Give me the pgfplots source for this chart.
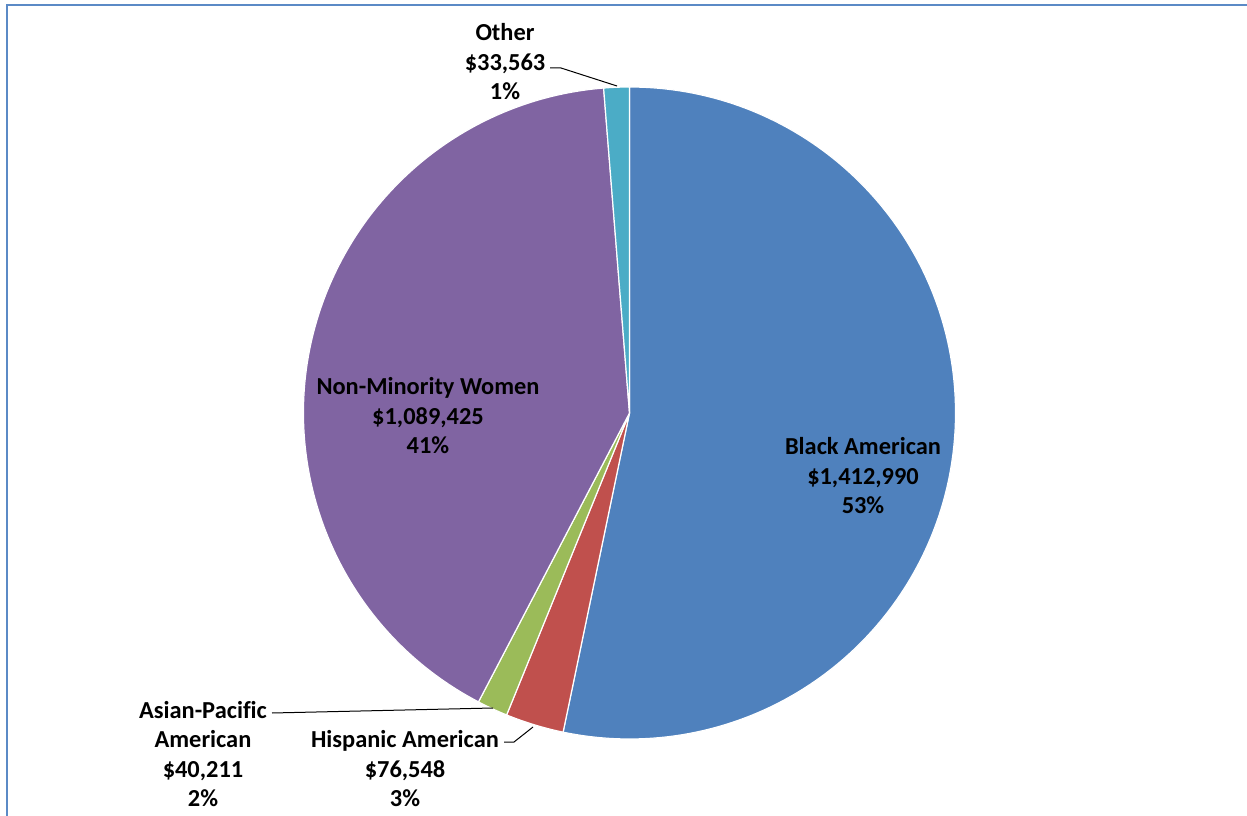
\documentclass[border=0pt]{standalone}
\usepackage{pgfplots}
\pgfplotsset{compat=1.18}
\usepackage{pgfplotstable}
\usepackage{fontspec}
\setmainfont{Carlito}[Ligatures=NoCommon]
\definecolor{cBlue}{HTML}{4F81BD}
\definecolor{cRed}{HTML}{C0504D}
\definecolor{cGreen}{HTML}{9BBB59}
\definecolor{cPurple}{HTML}{8064A2}
\definecolor{cAqua}{HTML}{4BACC6}
\definecolor{cFrame}{HTML}{5B8AC6}

\pgfplotstableread{
idx value
0 1412990
1 76548
2 40211
3 1089425
4 33563
}\pietable
\pgfplotstablegetelem{0}{value}\of\pietable\edef\vA{\pgfplotsretval}
\pgfplotstablegetelem{1}{value}\of\pietable\edef\vB{\pgfplotsretval}
\pgfplotstablegetelem{2}{value}\of\pietable\edef\vC{\pgfplotsretval}
\pgfplotstablegetelem{3}{value}\of\pietable\edef\vD{\pgfplotsretval}
\pgfplotstablegetelem{4}{value}\of\pietable\edef\vE{\pgfplotsretval}
\edef\tot{\fpeval{\vA+\vB+\vC+\vD+\vE}}
\edef\aO{90}
\edef\aA{\fpeval{90-360*\vA/\tot}}
\edef\aB{\fpeval{\aA-360*\vB/\tot}}
\edef\aC{\fpeval{\aB-360*\vC/\tot}}
\edef\aD{\fpeval{\aC-360*\vD/\tot}}
\edef\aE{\fpeval{\aD-360*\vE/\tot}}

\begin{document}
\begin{tikzpicture}
\begin{axis}[width=623.5pt,height=407.5pt,scale only axis,
  xmin=0,xmax=1247,ymin=0,ymax=815,hide axis,clip=false]
\def\R{163pt}
\fill[cBlue,draw=white,line width=0.6pt] (axis cs:629.5,402) -- ++(\aO:\R) arc[start angle=\aO,end angle=\aA,radius=\R] -- cycle;
\fill[cRed,draw=white,line width=0.6pt] (axis cs:629.5,402) -- ++(\aA:\R) arc[start angle=\aA,end angle=\aB,radius=\R] -- cycle;
\fill[cGreen,draw=white,line width=0.6pt] (axis cs:629.5,402) -- ++(\aB:\R) arc[start angle=\aB,end angle=\aC,radius=\R] -- cycle;
\fill[cPurple,draw=white,line width=0.6pt] (axis cs:629.5,402) -- ++(\aC:\R) arc[start angle=\aC,end angle=\aD,radius=\R] -- cycle;
\fill[cAqua,draw=white,line width=0.6pt] (axis cs:629.5,402) -- ++(\aD:\R) arc[start angle=\aD,end angle=\aE,radius=\R] -- cycle;
% leader lines
\draw[black,line width=0.5pt] (axis cs:550,747) -- (axis cs:561,747) -- (axis cs:617,729);
\draw[black,line width=0.5pt] (axis cs:272,102) -- (axis cs:493,107);
\draw[black,line width=0.5pt] (axis cs:504,73) -- (axis cs:514,73) -- (axis cs:533,88);
% labels
\tikzset{lbl/.style={align=center,inner sep=0pt,font={\fontsize{12.2pt}{14.75pt}\selectfont\bfseries}}}
\node[lbl] at (axis cs:863,339) {Black American\\\$1,412,990\\53\%};
\node[lbl] at (axis cs:428,399) {Non-Minority Women\\\$1,089,425\\41\%};
\node[lbl] at (axis cs:505,753) {Other\\\$33,563\\1\%};
\node[lbl] at (axis cs:405,46) {Hispanic American\\\$76,548\\3\%};
\node[lbl] at (axis cs:203,61) {Asian-Pacific\\American\\\$40,211\\2\%};
% frame
\draw[cFrame,line width=1pt] (axis cs:7,-20) -- (axis cs:7,810) -- (axis cs:1270,810);
\end{axis}
\pgfresetboundingbox
\useasboundingbox (current axis.south west) rectangle (current axis.north east);
\end{tikzpicture}
\end{document}
